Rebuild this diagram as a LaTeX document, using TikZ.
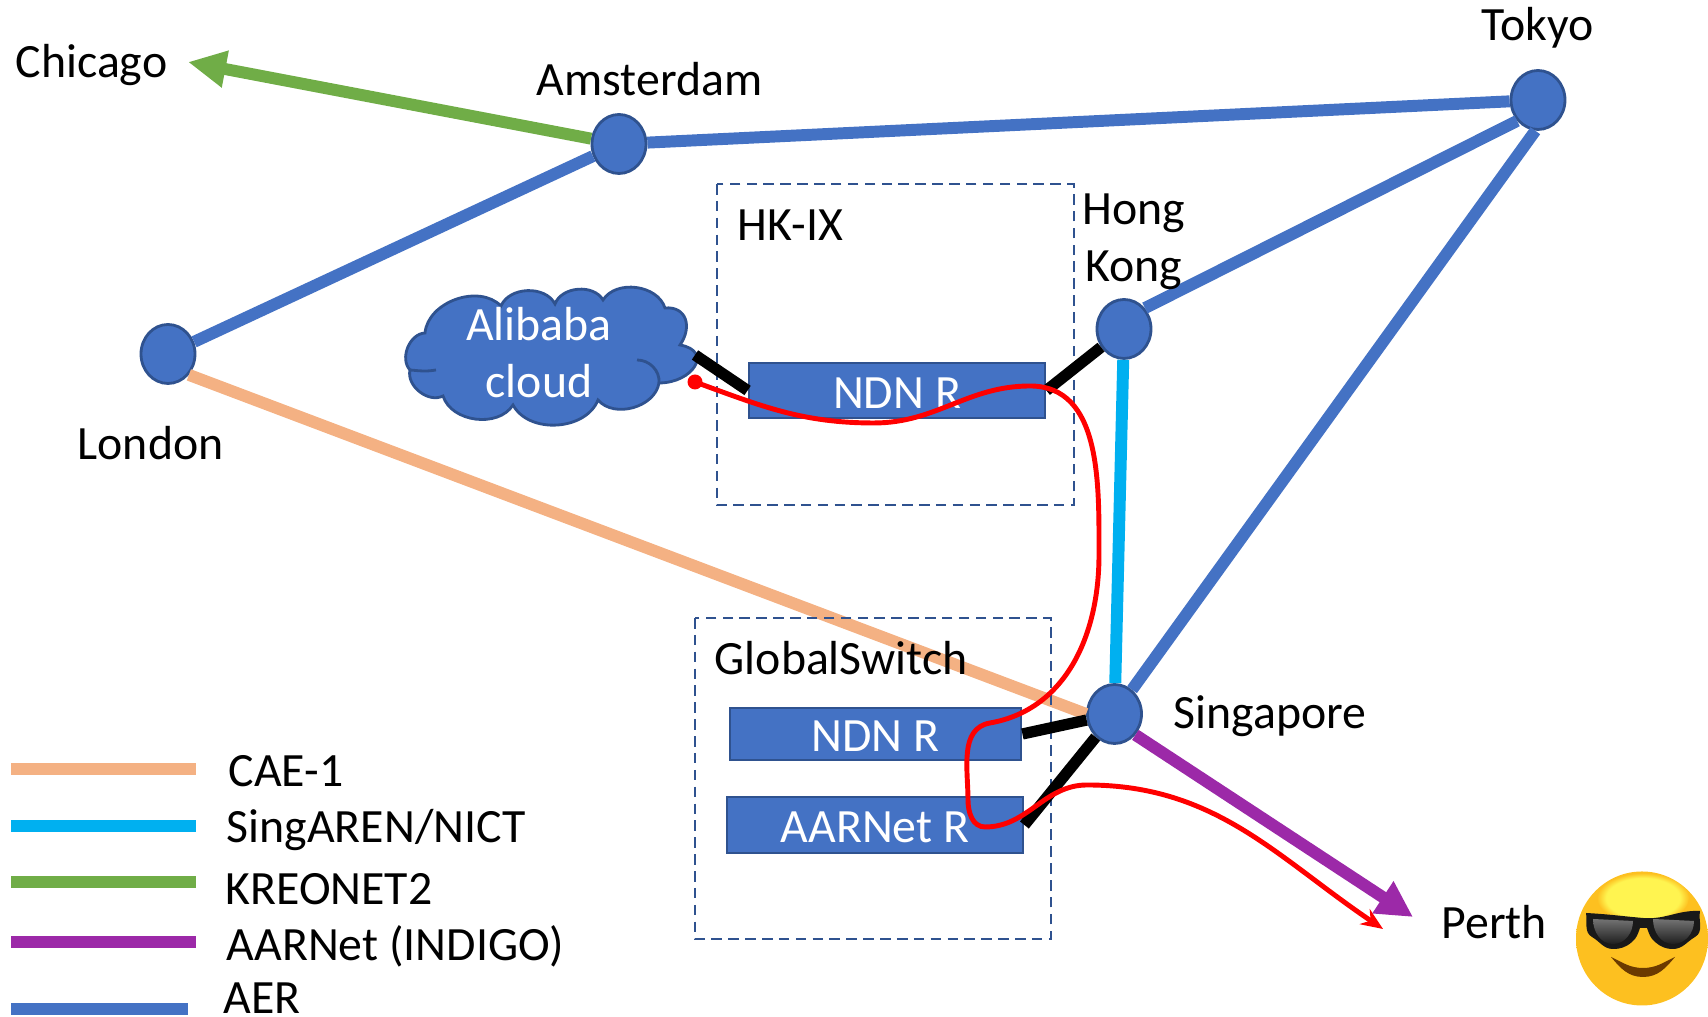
\documentclass[tikz,border=0pt]{standalone}
\usepackage{fontspec}
\setmainfont{Carlito}
\usetikzlibrary{arrows.meta,shapes.geometric,fadings}
\definecolor{aer}{HTML}{4472C4}
\definecolor{aeredge}{HTML}{2F528F}
\definecolor{cae}{HTML}{F4B183}
\definecolor{sing}{HTML}{00B0F0}
\definecolor{kreonet}{HTML}{70AD47}
\definecolor{indigo}{HTML}{9C29A8}
\definecolor{smile}{HTML}{6B3A00}
\definecolor{facemid}{HTML}{FDC020}
\definecolor{faceout}{HTML}{F0850C}
\definecolor{facehi}{HTML}{FFF450}
\pgfdeclareradialshading{facesh}{\pgfpoint{0bp}{4bp}}{
    color(0bp)=(facemid);
    color(28bp)=(facemid);
    color(48bp)=(faceout);
    color(100bp)=(faceout)
}
\tikzset{
    pop/.style={aer,draw=aeredge,fill,ellipse,line width=0.8pt,inner sep=0pt,minimum width=5.4mm,minimum height=5.9mm},
    router/.style={draw=aeredge,fill=aer,text=white,line width=0.8pt,inner sep=0pt,text height=3.6mm,font=\fontsize{13.6}{16.2}\selectfont},
    lbl/.style={anchor=base west,inner sep=0pt,font=\fontsize{13.6}{16.2}\selectfont},
    link/.style={line width=3.4pt},
    port/.style={black,line width=3.2pt},
    region/.style={aeredge,line width=0.8pt,dash pattern=on 3pt off 1.8pt},
    route/.style={red,line width=1.4pt},
    puff/.style={bend left=65}
}
\begin{document}
\begin{tikzpicture}
    \useasboundingbox (0,0) rectangle (17.08,10.17);
    \node [pop] (amsterdam) at (6.19,8.73) {};
    \node [pop] (london) at (1.68,6.63) {};
    \node [pop] (tokyo) at (15.38,9.17) {};
    \node [pop] (hongkong) at (11.24,6.88) {};
    \node [pop] (singapore) at (11.145,3.03) {};
    \coordinate (chicagotip) at (1.88,9.55);
    \coordinate (perthtip) at (14.13,1.00);
    \coordinate (cloudport) at (6.95,6.62);

    \draw [link,aer] (london) -- (amsterdam);
    \draw [link,aer] (amsterdam) -- (tokyo);
    \draw [link,aer] (hongkong.45) -- (tokyo.-135);
    \draw [link,aer] (singapore) -- (tokyo.-95);
    \draw [link,sing] (hongkong) -- (singapore);
    \draw [link,cae] (london.-45) -- (singapore.180);
    \draw [link,kreonet,-{Triangle[length=3.8mm,width=3.5mm]}] (amsterdam) -- (chicagotip);
    \draw [link,indigo,-{Triangle[length=3.6mm,width=3.6mm]}] (singapore.-45) -- (perthtip);

    \draw [region] (7.17,8.33) rectangle (10.74,5.12);
    \draw [region] (6.95,3.99) rectangle (10.51,0.78);

    \draw [aer,fill,draw=aeredge,line width=0.8pt]
        (4.25,6.84)
        to [puff] (5.01,7.11)
        to [puff] (5.55,7.13)
        to [puff] (6.03,7.17)
        to [puff] (6.65,7.09)
        to [out=5,in=55,looseness=1.4] (6.80,6.72)
        to [out=-10,in=0,looseness=2] (6.59,6.34)
        to [puff] (5.98,6.17)
        to [puff] (5.13,6.12)
        to [puff] (4.43,6.21)
        to [puff] (4.10,6.47)
        to [puff] cycle
    ;
    \draw [aeredge,line width=0.8pt] (6.37,6.57) to [out=0,in=85] (6.59,6.34);
    \draw [aeredge,line width=0.8pt] (4.10,6.47) to [out=-5,in=190] (4.36,6.47);
    \node [align=center,text=white,inner sep=0pt,font=\fontsize{13.6}{16.2}\selectfont] (alibaba) at (5.39,6.64) {Alibaba\\cloud};

    \node [router,minimum width=29.6mm,minimum height=5.5mm] (ndnhk) at (8.97,6.265) {NDN R};
    \node [router,minimum width=29.1mm,minimum height=5.2mm] (ndngs) at (8.755,2.83) {NDN R};
    \node [router,minimum width=29.6mm,minimum height=5.6mm] (aarnetr) at (8.75,1.92) {AARNet R};

    \draw [port] (cloudport) -- (ndnhk.west);
    \draw [port] (ndnhk.east) -- (hongkong);
    \draw [port] (ndngs.east) -- (singapore);
    \draw [port] (aarnetr.east) -- (singapore);

    \node [red,fill,circle,inner sep=0pt,minimum size=1.5mm] (routestart) at (6.95,6.35) {};
    \draw [route,-{Stealth[length=2.2mm,width=1.8mm]}] (routestart.center)
        to [out=-20,in=180] (8.74,5.94)
        to [out=0,in=180] (10.30,6.31)
        to [out=0,in=90] (10.99,4.62)
        to [out=-90,in=10] (9.90,2.94)
        to [out=190,in=90] (9.68,2.17)
        to [out=-90,in=180] (9.85,1.90)
        to [out=0,in=180] (10.87,2.32)
        to [out=0,in=146] (13.83,0.88)
    ;

    \node [lbl] (chicago) at (0.15,9.39) {Chicago};
    \node [lbl] (amsterdamlbl) at (5.36,9.21) {Amsterdam};
    \node [lbl] (tokyolbl) at (14.81,9.76) {Tokyo};
    \node [align=center,inner sep=0pt,font=\fontsize{13.6}{16.2}\selectfont] (hongkonglbl) at (11.34,7.75) {Hong\\Kong};
    \node [lbl] (hkix) at (7.37,7.76) {HK-IX};
    \node [lbl] (londonlbl) at (0.77,5.57) {London};
    \node [lbl] (globalswitch) at (7.14,3.42) {GlobalSwitch};
    \node [lbl] (singaporelbl) at (11.73,2.88) {Singapore};
    \node [lbl] (perth) at (14.41,0.78) {Perth};

    \foreach \leg/\ya/\xb/\xt/\yt/\col/\txt in {
        caeleg/2.48/1.96/2.28/2.30/cae/{CAE-1},
        singleg/1.91/1.96/2.26/1.74/sing/{SingAREN/NICT},
        kreoleg/1.35/1.96/2.25/1.12/kreonet/{KREONET2},
        aarleg/0.75/1.96/2.26/0.56/indigo/{AARNet (INDIGO)},
        aerleg/0.08/1.88/2.23/0.03/aer/{AER}
    } {
        \coordinate (\leg a) at (0.11,\ya);
        \coordinate (\leg b) at (\xb,\ya);
        \draw [\col,line width=3.4pt] (\leg a) -- (\leg b);
        \node [lbl] (\leg txt) at (\xt,\yt) {\txt};
    }

    \shade [shading=facesh] (16.42,0.785) ellipse (0.66 and 0.67);
    \fill [facehi,path fading=circle with fuzzy edge 20 percent] (16.43,1.19) ellipse (0.46 and 0.25);
    \fill [black!90]
        (15.86,1.04)
        to [out=-3,in=175] (16.43,0.99)
        to [out=-5,in=177] (17.00,1.06)
        to [out=-100,in=30] (16.95,0.80)
        to [out=-150,in=0] (16.73,0.68)
        to [out=180,in=-40] (16.55,0.75)
        to [out=140,in=-70] (16.47,0.89)
        -- (16.40,0.89)
        to [out=-110,in=40] (16.32,0.75)
        to [out=-140,in=0] (16.13,0.68)
        to [out=180,in=-30] (15.92,0.80)
        to [out=150,in=-80] cycle
    ;
    \foreach \x/\xm/\xx in {15.93/16.13/16.33,16.53/16.73/16.94} {
        \shade [top color=black!55,bottom color=black!88]
            (\x,0.98) -- (\xx,0.96)
            to [out=-90,in=0] (\xm,0.73)
            to [out=180,in=-90] cycle;
    }
    \fill [smile]
        (16.11,0.60)
        to [out=-25,in=180] (16.43,0.49)
        to [out=0,in=-155] (16.75,0.60)
        to [out=-130,in=0] (16.43,0.40)
        to [out=180,in=-50] cycle
    ;
\end{tikzpicture}
\end{document}
